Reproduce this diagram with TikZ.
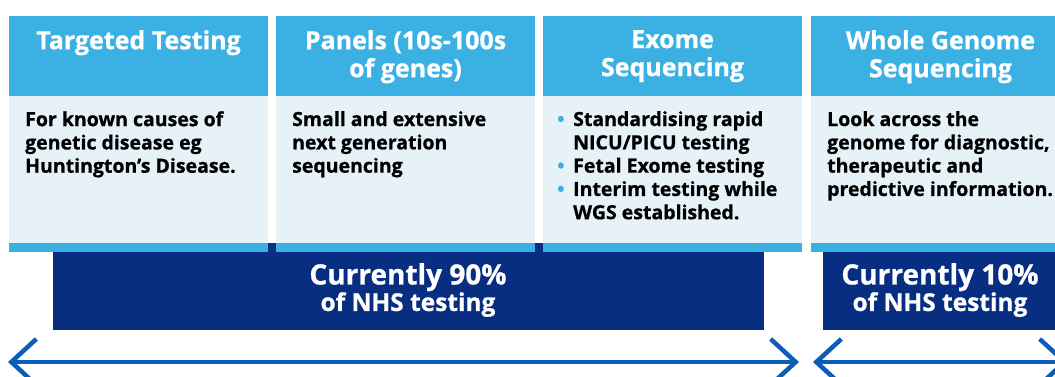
\documentclass[tikz,border=0pt]{standalone}
\usepackage{fontspec}
\setmainfont{Open Sans}[BoldFeatures={FakeBold=0.8}]
\usetikzlibrary{arrows.meta}
\definecolor{hdr}{HTML}{3BB0E3}
\definecolor{bodyc}{HTML}{E6F2F8}
\definecolor{navy}{HTML}{082E82}
\definecolor{arrowc}{HTML}{0B5DB8}
\begin{document}
\begin{tikzpicture}[x=1pt,y=-1pt,
  colbox/.style={fill=hdr, draw=none, minimum width=259pt, minimum height=236pt, inner sep=0pt, anchor=north west},
  bodybox/.style={fill=bodyc, draw=none, minimum width=259pt, minimum height=147pt, inner sep=0pt, anchor=north west},
  navybox/.style={fill=navy, draw=none, inner sep=0pt, anchor=north west},
  hdrtext/.style={text=white, font=\fontsize{25}{28}\selectfont\bfseries, align=center, inner sep=0pt, anchor=north},
  bodytext/.style={text=black, font=\fontsize{19.5}{23.3}\selectfont\bfseries, align=left, inner sep=0pt, anchor=north west},
  pcttext/.style={text=white, align=center, inner sep=0pt, anchor=north},
  span/.style={draw=arrowc, line width=4.5pt, {Straight Barb[length=25pt,width=46pt,line width=4.5pt]}-{Straight Barb[length=25pt,width=46pt,line width=4.5pt]}}
]
\useasboundingbox (0,0) rectangle (1055,376);
\fill[white] (0,0) rectangle (1055,376);
% navy bars
\node[navybox, minimum width=711pt, minimum height=87pt] (n1) at (53,243) {};
\node[navybox, minimum width=250pt, minimum height=78pt] (n2) at (823,252) {};
% columns
\node[colbox] (c1) at (9,16) {};
\node[colbox] (c2) at (276,16) {};
\node[colbox] (c3) at (543,16) {};
\node[colbox] (c4) at (811,16) {};
\node[bodybox] (b1) at (9,96) {};
\node[bodybox] (b2) at (276,96) {};
\node[bodybox] (b3) at (543,96) {};
\node[bodybox] (b4) at (811,96) {};
% headers
\node[hdrtext] (h1) at (138.5,30) {Targeted Testing};
\node[hdrtext] (h2) at (405.5,30) {Panels (10s-100s\\of genes)};
\node[hdrtext] (h3) at (672.5,30) {Exome\\Sequencing};
\node[hdrtext] (h4) at (940.5,30) {Whole Genome\\Sequencing};
% bodies
\node[bodytext] (t1) at (25,111) {For known causes of\\genetic disease eg\\Huntington’s Disease.};
\node[bodytext] (t2) at (292,111) {Small and extensive\\next generation\\sequencing};
\node[bodytext] (t3) at (557,111) {\makebox[16pt][l]{\textcolor{hdr}{•}}Standardising rapid\\
\hspace*{16pt}NICU/PICU testing\\
\makebox[16pt][l]{\textcolor{hdr}{•}}Fetal Exome testing\\
\makebox[16pt][l]{\textcolor{hdr}{•}}Interim testing while\\
\hspace*{16pt}WGS established.};
\node[bodytext] (t4) at (827,111) {Look across the\\genome for diagnostic,\\therapeutic and\\predictive information.};
% percentages
\node[pcttext] (p1) at (408,263) {{\fontsize{28}{30}\selectfont\bfseries Currently 90\%}\\[0pt]{\fontsize{24.5}{30}\selectfont\bfseries of NHS testing}};
\node[pcttext] (p2) at (940,263) {{\fontsize{28}{30}\selectfont\bfseries Currently 10\%}\\[0pt]{\fontsize{24.5}{30}\selectfont\bfseries of NHS testing}};
% arrows
\coordinate (a1l) at (8,362);
\coordinate (a1r) at (799,362);
\coordinate (a2l) at (813,362);
\coordinate (a2r) at (1068,362);
\draw[span] (a1l) -- (a1r);
\draw[span] (a2l) -- (a2r);
\end{tikzpicture}
\end{document}
